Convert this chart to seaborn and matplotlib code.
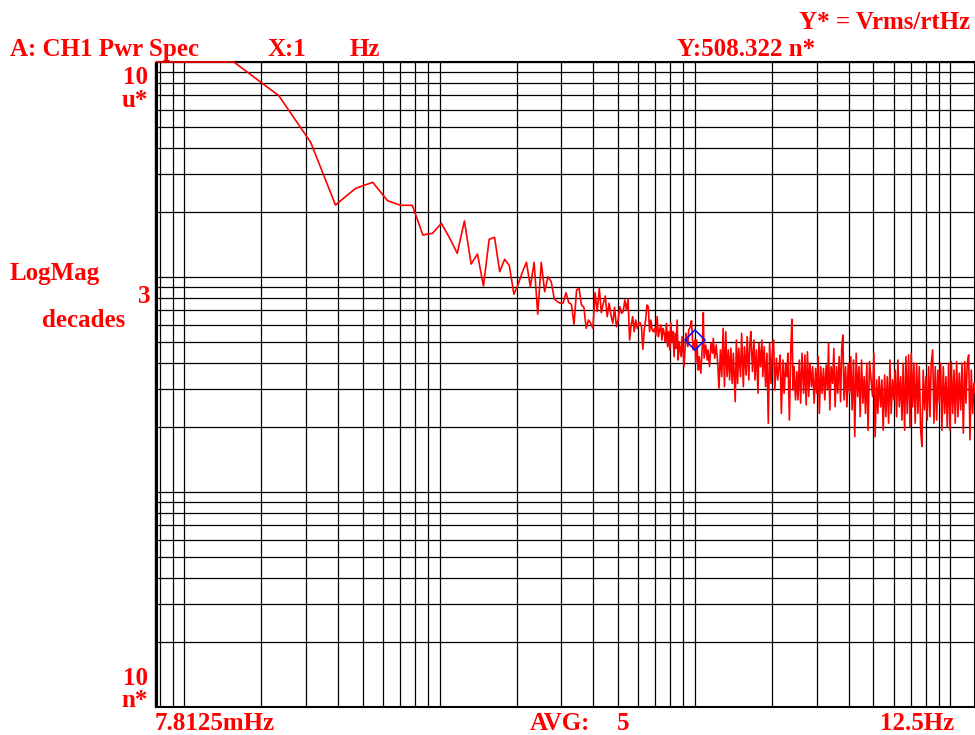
import numpy as np
import pandas as pd
import matplotlib
matplotlib.use("Agg")
import matplotlib.pyplot as plt
from matplotlib.ticker import LogLocator, NullFormatter
import seaborn as sns

# Analyzer setup: FFT line spacing equals the start frequency
LINE_SPACING_HZ = 0.0078125
F_START_HZ = 0.0078125
F_STOP_HZ = 12.5
Y_TOP = 10e-6
Y_BOTTOM = 10e-9

# Marker readout
MARKER_HZ = 1.0
MARKER_NV = 508.322

# FFT line numbers and displayed magnitude (nVrms/rtHz), low-frequency lines
low_lines = [1, 2, 3, 4, 5, 6, 7, 8, 9, 10, 11, 12, 13, 14, 15, 16, 17, 18, 19, 20,
             21, 22, 23, 24, 25, 26, 27, 28, 29, 30, 31, 32, 33, 34, 35, 36, 37, 38, 39, 40,
             41, 42, 43, 44, 45, 46]
low_nv = [10000, 10000, 6970, 4231, 2162, 2585, 2757, 2264, 2155, 2155,
          1568, 1597, 1777, 1518, 1289, 1822, 1149, 1279, 908, 1497,
          1530, 1058, 1209, 1129, 831, 928, 1055, 1171, 901, 1171,
          671, 1171, 854, 1003, 951, 790, 768, 755, 757, 845,
          760, 746, 603, 870, 886, 741]

mid_lines = [47, 48, 49, 50, 51, 52, 53, 54, 55, 56, 57, 58, 59, 60, 61, 62, 63, 64, 65, 66,
             67, 68, 69, 70, 71, 72, 73, 74, 75, 76, 77, 78, 79, 80, 81, 82, 83, 84, 85, 86,
             87, 88, 89, 90, 91, 92, 93, 94, 95, 96, 97, 98, 99, 100, 101, 102, 103, 104, 105,
             106, 107, 108, 109, 110, 111]
mid_nv = [723, 577, 631, 609, 577, 845, 690, 886, 682, 755,
          816, 654, 755, 666, 609, 723, 587, 631, 728, 678,
          690, 782, 702, 788, 509, 598, 654, 557, 631, 577,
          609, 613, 587, 461, 567, 631, 741, 728, 557, 631,
          567, 557, 577, 537, 654, 528, 567, 598, 509, 577,
          547, 500, 609, 474, 557, 458, 609, 500, 557, 426,
          547, 466, 631, 411, 500]

# Around 1 Hz (line 128 carries the marker reading)
band1_lines = [113, 114, 116, 117, 118, 120, 121, 123, 124, 126, 128, 129, 130, 132, 133,
               135, 137, 138, 139, 141, 143, 144, 146, 148, 150, 151, 153, 155, 157, 159,
               161, 163, 165, 167, 169, 171, 173, 175, 177, 179, 181, 184, 186, 188, 190,
               193, 195, 198, 200, 203, 205, 208, 210, 212, 215, 218, 220, 223, 226, 228,
               231, 234, 236, 239, 242, 245, 248, 251, 254, 257, 260, 263, 267, 270, 273]
band1_nv = [426, 528, 383, 458, 547, 474, 567, 587, 626, 458, MARKER_NV, 397, 509, 369, 426,
            357, 492, 682, 419, 483, 411, 458, 383, 492, 442, 519, 419, 483, 404, 304,
            458, 344, 577, 309, 557, 344, 458, 332, 466, 320, 442, 263, 509, 320, 466,
            344, 547, 309, 474, 350, 528, 332, 492, 557, 363, 509, 332, 458, 288, 492,
            383, 509, 344, 474, 309, 442, 209, 492, 320, 442, 509, 298, 419, 332, 383]

band2_lines = [276, 279, 283, 286, 290, 293, 296, 300, 304, 307, 310, 313, 317, 321, 324,
               328, 332, 336, 341, 345, 349, 353, 357, 361, 366, 370, 375, 380, 384, 389,
               393, 398, 403, 408, 413, 418, 423, 427, 432, 437, 443, 448, 453, 459, 464,
               470, 476, 481, 486, 491, 498, 504, 510, 516, 522, 528, 535, 541, 548, 555,
               562, 568, 575, 582, 589, 596, 603, 610, 618]
band2_nv = [434, 232, 411, 288, 397, 344, 442, 216, 474, 636, 298, 383, 268, 363, 268,
            411, 259, 442, 288, 434, 254, 449, 278, 397, 309, 383, 259, 376, 288, 426,
            232, 383, 288, 376, 268, 390, 298, 492, 241, 383, 320, 466, 249, 383, 288,
            426, 263, 474, 537, 268, 383, 249, 397, 288, 426, 241, 411, 181, 442, 278,
            383, 224, 411, 259, 344, 232, 397, 194, 404]

band3_lines = [635, 643, 650, 659, 666, 674, 683, 691, 699, 708, 716, 725, 734, 743, 751,
               761, 770, 779, 789, 798, 808, 818, 828, 837, 848, 858, 868, 879, 890, 900,
               912, 922, 933, 945, 956, 968, 980, 991, 1003, 1016, 1028, 1040, 1053, 1066,
               1078, 1092, 1105, 1118, 1132, 1145, 1159, 1174, 1187, 1202, 1217, 1231, 1246,
               1261, 1277, 1292, 1308, 1324, 1339, 1356, 1372, 1388, 1406, 1423, 1440, 1458,
               1475, 1492, 1511, 1529, 1547, 1567, 1585, 1600]
band3_nv = [278, 442, 181, 332, 232, 344, 249, 332, 194, 350, 224, 344, 209, 411, 232,
            332, 268, 369, 224, 411, 249, 344, 216, 397, 194, 426, 232, 434, 201, 442,
            249, 397, 209, 397, 232, 383, 194, 163, 369, 241, 344, 216, 383, 224,
            397, 458, 209, 383, 216, 369, 259, 397, 194, 383, 232, 344, 201,
            397, 194, 404, 232, 369, 209, 404, 224, 357, 241, 397, 188, 404,
            259, 397, 434, 175, 369, 232, 320, 290]

lines = np.array(low_lines + mid_lines + band1_lines + band2_lines + band3_lines)
mags_nv = np.array(low_nv + mid_nv + band1_nv + band2_nv + band3_nv, dtype=float)
spec = pd.DataFrame({"freq_hz": lines * LINE_SPACING_HZ,
                     "mag": mags_nv * 1e-9})

sns.set_theme(style="white")
plt.rcParams["font.family"] = ["Liberation Serif", "DejaVu Serif"]
plt.rcParams["font.weight"] = "bold"

W, H = 975, 735
fig = plt.figure(figsize=(W / 100, H / 100), dpi=100)
fig.patch.set_facecolor("white")
L, R, T, B = 157, 975, 62, 707
ax = fig.add_axes([L / W, 1 - B / H, (R - L) / W, (B - T) / H])
ax.set_xscale("log")
ax.set_yscale("log")
ax.set_xlim(F_START_HZ, F_STOP_HZ)
ax.set_ylim(Y_BOTTOM, Y_TOP)

# log grid with every 1..9 division on both axes
for axis in (ax.xaxis, ax.yaxis):
    axis.set_major_locator(LogLocator(base=10, numticks=20))
    axis.set_minor_locator(LogLocator(base=10, subs=np.arange(2, 10), numticks=50))
    axis.set_major_formatter(NullFormatter())
    axis.set_minor_formatter(NullFormatter())
ax.grid(True, which="both", color="black", linewidth=0.9)
ax.tick_params(which="both", length=0)
for sp in ax.spines.values():
    sp.set_color("black")
    sp.set_linewidth(1.5)
# outer frame line just left of the plot edge
fig.add_artist(plt.Line2D([155 / W, 155 / W], [1 - B / H, 1 - T / H],
                          color="black", linewidth=1.0))

sns.lineplot(data=spec, x="freq_hz", y="mag", ax=ax, color="#ff0000",
             linewidth=1.2, estimator=None, sort=False, clip_on=False, zorder=3)
ax.plot([MARKER_HZ], [MARKER_NV * 1e-9], marker="D", markersize=10,
        markerfacecolor="none", markeredgecolor="#1010ff", markeredgewidth=1.2,
        linestyle="none", zorder=4)
ax.set_xlabel("")
ax.set_ylabel("")

RED = "#ff0000"
FS = 18


def label(x, y, s, ha="left"):
    fig.text(x / W, 1 - y / H, s, color=RED, fontsize=FS, fontweight="bold",
             ha=ha, va="baseline")


label(970, 29, "Y* = Vrms/rtHz", ha="right")
label(10, 56, "A: CH1 Pwr Spec")
label(267, 56, f"X:{MARKER_HZ:g}")
label(350, 56, "Hz")
label(677, 56, f"Y:{MARKER_NV:g} n*")
label(148, 84, "10", ha="right")
label(148, 107, "u*", ha="right")
label(10, 280, "LogMag")
label(150, 303, "3", ha="right")
label(42, 327, "decades")
label(148, 685, "10", ha="right")
label(148, 707, "n*", ha="right")
label(155, 730, "7.8125mHz")
label(530, 730, "AVG:")
label(617, 730, "5")
label(880, 730, "12.5Hz")

fig.savefig("out.png", dpi=100, facecolor="white")
